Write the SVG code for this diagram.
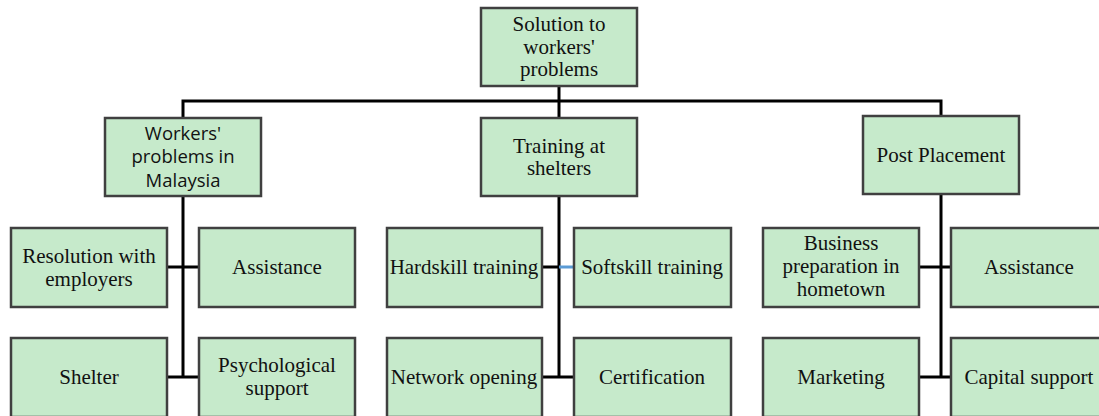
<svg xmlns="http://www.w3.org/2000/svg" width="1099" height="416" viewBox="0 0 1099 416">
<style>
.box{fill:#c6eacb;stroke:#404040;stroke-width:2.5}
.t{font-family:"Liberation Serif","Times New Roman",serif;font-size:21px;fill:#111;text-anchor:middle}
.s{font-family:"Open Sans","Liberation Sans",sans-serif;font-size:18.5px;fill:#111;text-anchor:middle}
.c{stroke:#000;stroke-width:3;fill:none}
</style>
<rect width="1099" height="416" fill="#fff"/>
<g id="connectors">
<path class="c" d="M559 86V101M183 118V101H941V116M559 101V118"/>
<path class="c" d="M183 196V378M167 267H199M167 377H199"/>
<path class="c" d="M559 196V378M542 267H559M542 377H574"/>
<path d="M559 267H574" stroke="#5b9bd5" stroke-width="3"/>
<path class="c" d="M941 194V378M919 267H951M919 377H951"/>
</g>
<g id="root"><rect class="box" x="481" y="8" width="156" height="78"/>
<text class="t" x="559" y="31">Solution to</text><text class="t" x="559" y="54">workers'</text><text class="t" x="559" y="76">problems</text></g>
<g id="workers"><rect class="box" x="105" y="118" width="156" height="78"/>
<text class="s" x="183" y="140">Workers'</text><text class="s" x="183" y="163">problems in</text><text class="s" x="183" y="187">Malaysia</text></g>
<g id="training"><rect class="box" x="481" y="118" width="156" height="78"/>
<text class="t" x="559" y="153">Training at</text><text class="t" x="559" y="175">shelters</text></g>
<g id="post"><rect class="box" x="863" y="116" width="156" height="78"/>
<text class="t" x="941" y="162">Post Placement</text></g>
<g id="resolution"><rect class="box" x="11" y="228" width="156" height="79"/>
<text class="t" x="89" y="263">Resolution with</text><text class="t" x="89" y="286">employers</text></g>
<g id="assistance1"><rect class="box" x="199" y="228" width="156" height="79"/>
<text class="t" x="277" y="274">Assistance</text></g>
<g id="shelter"><rect class="box" x="11" y="338" width="156" height="79"/>
<text class="t" x="89" y="384">Shelter</text></g>
<g id="psych"><rect class="box" x="199" y="338" width="156" height="79"/>
<text class="t" x="277" y="372">Psychological</text><text class="t" x="277" y="395">support</text></g>
<g id="hardskill"><rect class="box" x="387" y="228" width="155" height="79"/>
<text class="t" x="464" y="274">Hardskill training</text></g>
<g id="softskill"><rect class="box" x="574" y="228" width="157" height="79"/>
<text class="t" x="652" y="274">Softskill training</text></g>
<g id="network"><rect class="box" x="387" y="338" width="155" height="79"/>
<text class="t" x="464" y="384">Network opening</text></g>
<g id="cert"><rect class="box" x="574" y="338" width="157" height="79"/>
<text class="t" x="652" y="384">Certification</text></g>
<g id="business"><rect class="box" x="763" y="228" width="156" height="79"/>
<text class="t" x="841" y="250">Business</text><text class="t" x="841" y="273">preparation in</text><text class="t" x="841" y="296">hometown</text></g>
<g id="assistance2"><rect class="box" x="951" y="228" width="156" height="79"/>
<text class="t" x="1029" y="274">Assistance</text></g>
<g id="marketing"><rect class="box" x="763" y="338" width="156" height="79"/>
<text class="t" x="841" y="384">Marketing</text></g>
<g id="capital"><rect class="box" x="951" y="338" width="156" height="79"/>
<text class="t" x="1029" y="384">Capital support</text></g>
</svg>
